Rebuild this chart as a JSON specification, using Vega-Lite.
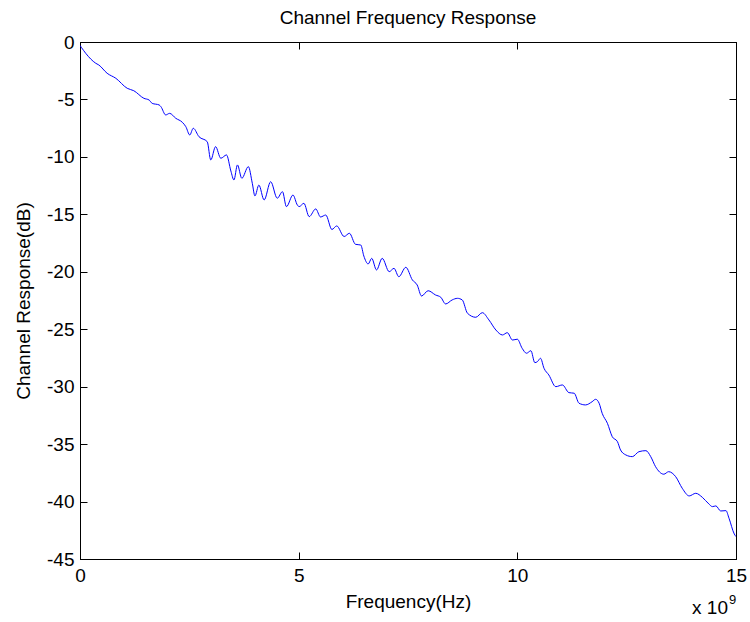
{
  "$schema": "https://vega.github.io/schema/vega-lite/v6.json",
  "width": 656,
  "height": 517,
  "autosize": {"type": "none"},
  "padding": {"left": 80, "top": 42, "right": 14, "bottom": 63},
  "background": "white",
  "title": {"text": "Channel Frequency Response", "fontSize": 19, "fontWeight": "normal", "font": "Liberation Sans", "color": "black", "offset": 5},
  "config": {
    "view": {"stroke": "black", "strokeWidth": 1},
    "axis": {
      "grid": false,
      "labelFlush": false,
      "labelOverlap": false,
      "domainColor": "black",
      "tickColor": "black",
      "tickSize": -7,
      "labelColor": "black",
      "labelFont": "Liberation Sans",
      "labelFontSize": 19,
      "labelExpr": "replace(datum.label, '−', '-')",
      "titleFont": "Liberation Sans",
      "titleFontSize": 19,
      "titleFontWeight": "normal",
      "titleColor": "black"
    }
  },
  "data": {
    "values": [
      {"f": 0.0, "r": -0.3}, {"f": 0.03, "r": -0.46}, {"f": 0.13, "r": -0.98}, {"f": 0.36, "r": -1.85},
      {"f": 0.43, "r": -2.0}, {"f": 0.62, "r": -2.72}, {"f": 0.82, "r": -3.16}, {"f": 1.08, "r": -4.03},
      {"f": 1.23, "r": -4.24}, {"f": 1.46, "r": -4.9}, {"f": 1.58, "r": -5.05}, {"f": 1.65, "r": -5.34},
      {"f": 1.81, "r": -5.48}, {"f": 1.85, "r": -5.63}, {"f": 1.96, "r": -6.35}, {"f": 2.05, "r": -6.21},
      {"f": 2.19, "r": -6.64}, {"f": 2.34, "r": -6.99}, {"f": 2.42, "r": -7.37}, {"f": 2.51, "r": -8.09},
      {"f": 2.59, "r": -7.51}, {"f": 2.72, "r": -8.24}, {"f": 2.91, "r": -8.68}, {"f": 2.99, "r": -10.27},
      {"f": 3.1, "r": -9.11}, {"f": 3.22, "r": -10.12}, {"f": 3.35, "r": -9.83}, {"f": 3.45, "r": -11.23},
      {"f": 3.52, "r": -12.01}, {"f": 3.6, "r": -10.7}, {"f": 3.7, "r": -11.86}, {"f": 3.85, "r": -10.85},
      {"f": 3.94, "r": -12.3}, {"f": 4.0, "r": -13.4}, {"f": 4.09, "r": -12.45}, {"f": 4.21, "r": -13.75},
      {"f": 4.36, "r": -12.16}, {"f": 4.51, "r": -13.6}, {"f": 4.63, "r": -13.03}, {"f": 4.72, "r": -14.33},
      {"f": 4.87, "r": -13.32}, {"f": 4.97, "r": -14.19}, {"f": 5.01, "r": -14.33}, {"f": 5.12, "r": -14.04},
      {"f": 5.24, "r": -15.2}, {"f": 5.39, "r": -14.53}, {"f": 5.5, "r": -15.23}, {"f": 5.62, "r": -15.06},
      {"f": 5.76, "r": -16.32}, {"f": 5.87, "r": -16.01}, {"f": 6.04, "r": -16.93}, {"f": 6.16, "r": -16.65},
      {"f": 6.3, "r": -17.61}, {"f": 6.42, "r": -17.67}, {"f": 6.49, "r": -18.63}, {"f": 6.59, "r": -19.32},
      {"f": 6.67, "r": -18.83}, {"f": 6.78, "r": -19.84}, {"f": 6.91, "r": -18.83}, {"f": 7.07, "r": -19.99},
      {"f": 7.18, "r": -19.7}, {"f": 7.29, "r": -20.43}, {"f": 7.45, "r": -19.61}, {"f": 7.6, "r": -20.71},
      {"f": 7.71, "r": -21.15}, {"f": 7.81, "r": -22.11}, {"f": 7.96, "r": -21.65}, {"f": 8.13, "r": -22.02},
      {"f": 8.25, "r": -22.22}, {"f": 8.36, "r": -22.8}, {"f": 8.51, "r": -22.45}, {"f": 8.63, "r": -22.31},
      {"f": 8.74, "r": -22.45}, {"f": 8.86, "r": -23.61}, {"f": 9.05, "r": -23.96}, {"f": 9.2, "r": -23.56},
      {"f": 9.35, "r": -24.19}, {"f": 9.51, "r": -25.07}, {"f": 9.66, "r": -25.5}, {"f": 9.77, "r": -25.3},
      {"f": 9.89, "r": -25.94}, {"f": 10.0, "r": -25.87}, {"f": 10.11, "r": -26.66}, {"f": 10.21, "r": -27.09},
      {"f": 10.31, "r": -26.87}, {"f": 10.4, "r": -27.91}, {"f": 10.46, "r": -27.82}, {"f": 10.53, "r": -27.53},
      {"f": 10.61, "r": -28.4}, {"f": 10.72, "r": -28.98}, {"f": 10.88, "r": -30.0}, {"f": 11.03, "r": -29.85},
      {"f": 11.18, "r": -30.52}, {"f": 11.3, "r": -30.57}, {"f": 11.41, "r": -31.44}, {"f": 11.56, "r": -31.59},
      {"f": 11.71, "r": -31.31}, {"f": 11.79, "r": -31.1}, {"f": 11.87, "r": -31.44}, {"f": 11.94, "r": -32.32},
      {"f": 12.06, "r": -33.19}, {"f": 12.17, "r": -34.35}, {"f": 12.29, "r": -34.79}, {"f": 12.36, "r": -35.51},
      {"f": 12.48, "r": -35.94}, {"f": 12.63, "r": -36.09}, {"f": 12.78, "r": -35.66}, {"f": 12.94, "r": -35.57},
      {"f": 13.05, "r": -36.09}, {"f": 13.16, "r": -36.96}, {"f": 13.35, "r": -37.62}, {"f": 13.46, "r": -37.4},
      {"f": 13.62, "r": -37.83}, {"f": 13.77, "r": -38.84}, {"f": 13.93, "r": -39.51}, {"f": 14.08, "r": -39.28},
      {"f": 14.23, "r": -39.63}, {"f": 14.38, "r": -40.21}, {"f": 14.46, "r": -40.44}, {"f": 14.54, "r": -40.38},
      {"f": 14.65, "r": -40.82}, {"f": 14.77, "r": -40.79}, {"f": 14.84, "r": -41.45}, {"f": 14.96, "r": -42.82},
      {"f": 15.0, "r": -43.05}
    ]
  },
  "layer": [
    {
      "mark": {"type": "line", "color": "#0000ff", "strokeWidth": 1, "clip": true, "interpolate": "monotone"},
      "encoding": {
        "x": {"field": "f", "type": "quantitative", "scale": {"domain": [0, 15], "nice": false},
              "axis": {"orient": "bottom", "values": [0, 5, 10, 15], "title": "Frequency(Hz)", "labelPadding": 14, "titlePadding": 7}},
        "y": {"field": "r", "type": "quantitative", "scale": {"domain": [-45, 0], "nice": false},
              "axis": {"orient": "left", "values": [-45, -40, -35, -30, -25, -20, -15, -10, -5, 0], "title": "Channel Response(dB)", "labelPadding": 13, "titlePadding": 13}}
      }
    },
    {
      "mark": {"type": "line", "opacity": 0},
      "encoding": {
        "x": {"field": "f", "type": "quantitative", "axis": {"orient": "top", "values": [0, 5, 10, 15], "labels": false, "title": null}},
        "y": {"field": "r", "type": "quantitative", "axis": {"orient": "right", "values": [-45, -40, -35, -30, -25, -20, -15, -10, -5, 0], "labels": false, "title": null}}
      }
    },
    {
      "data": {"values": [{"t": "x 10"}]},
      "mark": {"type": "text", "font": "Liberation Sans", "fontSize": 19, "color": "black", "align": "right", "baseline": "alphabetic", "dx": -8, "dy": 55},
      "encoding": {
        "text": {"field": "t", "type": "nominal"},
        "x": {"datum": 15, "type": "quantitative", "axis": null},
        "y": {"datum": -45, "type": "quantitative", "axis": null}
      }
    },
    {
      "data": {"values": [{"t": "9"}]},
      "mark": {"type": "text", "font": "Liberation Sans", "fontSize": 13, "color": "black", "align": "left", "baseline": "alphabetic", "dx": -7, "dy": 45},
      "encoding": {
        "text": {"field": "t", "type": "nominal"},
        "x": {"datum": 15, "type": "quantitative", "axis": null},
        "y": {"datum": -45, "type": "quantitative", "axis": null}
      }
    }
  ],
  "resolve": {"axis": {"x": "independent", "y": "independent"}}
}
